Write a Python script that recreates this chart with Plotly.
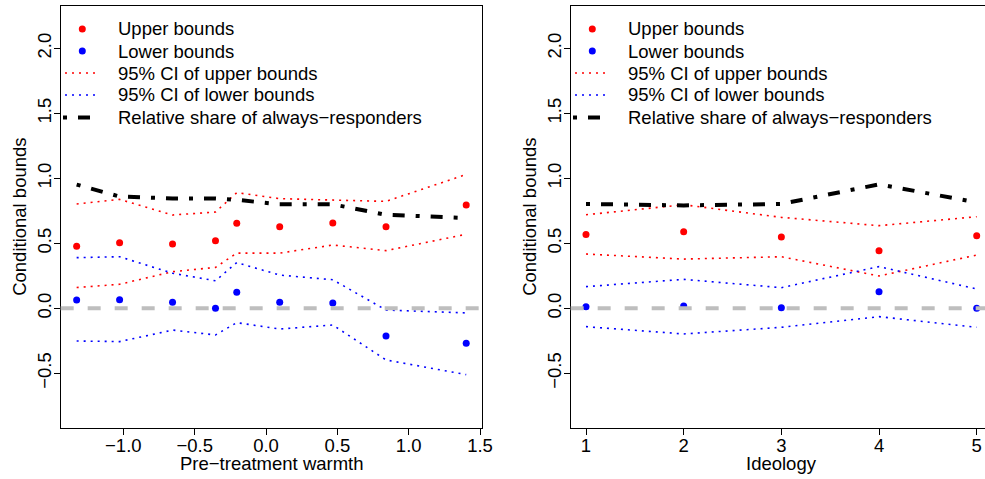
import plotly.graph_objects as go

# ---------------- data ----------------
warmth = [-1.327, -1.026, -0.655, -0.354, -0.205, 0.096, 0.468, 0.841, 1.403]
w_upper = [0.477, 0.505, 0.495, 0.520, 0.654, 0.628, 0.656, 0.628, 0.795]
w_lower = [0.064, 0.067, 0.046, 0.000, 0.123, 0.046, 0.041, -0.213, -0.269]
w_upper_ci_hi = [0.803, 0.838, 0.718, 0.741, 0.890, 0.844, 0.833, 0.823, 1.030]
w_upper_ci_lo = [0.160, 0.185, 0.282, 0.315, 0.425, 0.425, 0.487, 0.444, 0.570]
w_lower_ci_hi = [0.390, 0.397, 0.270, 0.212, 0.352, 0.256, 0.220, -0.013, -0.035]
w_lower_ci_lo = [-0.251, -0.256, -0.167, -0.205, -0.110, -0.159, -0.128, -0.397, -0.510]
w_share = [0.952, 0.860, 0.845, 0.845, 0.835, 0.800, 0.800, 0.720, 0.695]

ideology = [1, 2, 3, 4, 5]
i_upper = [0.569, 0.590, 0.549, 0.444, 0.559]
i_lower = [0.013, 0.018, 0.005, 0.128, 0.000]
i_upper_ci_hi = [0.720, 0.797, 0.700, 0.636, 0.705]
i_upper_ci_lo = [0.418, 0.379, 0.397, 0.249, 0.410]
i_lower_ci_hi = [0.167, 0.223, 0.159, 0.321, 0.149]
i_lower_ci_lo = [-0.141, -0.197, -0.146, -0.064, -0.146]
i_share = [0.803, 0.792, 0.803, 0.954, 0.815]

x_ticks_w = [-1.0, -0.5, 0.0, 0.5, 1.0, 1.5]
x_text_w = ["\u22121.0", "\u22120.5", "0.0", "0.5", "1.0", "1.5"]
x_ticks_i = [1, 2, 3, 4, 5]
x_text_i = ["1", "2", "3", "4", "5"]
y_ticks = [-0.5, 0.0, 0.5, 1.0, 1.5, 2.0]
y_text = ["\u22120.5", "0.0", "0.5", "1.0", "1.5", "2.0"]

legend_labels = ["Upper bounds", "Lower bounds", "95% CI of upper bounds",
                 "95% CI of lower bounds", "Relative share of always\u2212responders"]

# ---------------- style ----------------
W, H = 985, 479          # target picture size (layout positions are given in these pixels)
FIG_W = 996              # page width that the photograph maps onto the 985-px picture
FONT = "Liberation Sans, Arial, Helvetica, sans-serif"
FS = 18.5
RED, BLUE, BLACK, GREY = "#FF0000", "#0000FF", "#000000", "#BEBEBE"
DOT = "2px,5px"
DOTDASH = "4px,11px,12px,11px"

def px(x):
    return x / W

def py(y):
    return 1 - y / H

fig = go.Figure()

def add_panel(x, up, lo, uh, ul, lh, ll, sh, xa, ya):
    kw = dict(xaxis=xa, yaxis=ya, showlegend=False, hoverinfo="skip")
    fig.add_trace(go.Scatter(x=x, y=uh, mode="lines", line=dict(color=RED, width=1.6, dash=DOT), **kw))
    fig.add_trace(go.Scatter(x=x, y=ul, mode="lines", line=dict(color=RED, width=1.6, dash=DOT), **kw))
    fig.add_trace(go.Scatter(x=x, y=lh, mode="lines", line=dict(color=BLUE, width=1.6, dash=DOT), **kw))
    fig.add_trace(go.Scatter(x=x, y=ll, mode="lines", line=dict(color=BLUE, width=1.6, dash=DOT), **kw))
    fig.add_trace(go.Scatter(x=x, y=sh, mode="lines", line=dict(color=BLACK, width=4, dash=DOTDASH), **kw))
    fig.add_trace(go.Scatter(x=x, y=up, mode="markers", marker=dict(color=RED, size=7, line=dict(width=0)), **kw))
    fig.add_trace(go.Scatter(x=x, y=lo, mode="markers", marker=dict(color=BLUE, size=7, line=dict(width=0)), **kw))

add_panel(warmth, w_upper, w_lower, w_upper_ci_hi, w_upper_ci_lo,
          w_lower_ci_hi, w_lower_ci_lo, w_share, "x", "y")
add_panel(ideology, i_upper, i_lower, i_upper_ci_hi, i_upper_ci_lo,
          i_lower_ci_hi, i_lower_ci_lo, i_share, "x2", "y2")

# panel geometry (pixels)
L1, R1 = 60.67, 482.33
L2, R2 = 570.67, 985.0
TOP, BOT = 6.0, 427.67

axis_common = dict(showgrid=False, zeroline=False, showline=True, linecolor=BLACK, linewidth=1,
                   ticks="outside", ticklen=6, tickwidth=1, tickcolor=BLACK, ticklabelstandoff=-5,
                   tickfont=dict(family=FONT, size=FS, color=BLACK))

fig.update_layout(
    width=FIG_W, height=H, autosize=False, margin=dict(l=0, r=0, t=0, b=0),
    paper_bgcolor="white", plot_bgcolor="white",
    font=dict(family=FONT, size=FS, color=BLACK),
    xaxis=dict(domain=[px(L1), px(R1)], range=[-1.439, 1.516], tickvals=x_ticks_w, ticktext=x_text_w,
               mirror=True, anchor="y", **axis_common),
    yaxis=dict(domain=[py(BOT), py(TOP)], range=[-0.918, 2.326], tickvals=y_ticks, ticktext=y_text,
               tickangle=-90, mirror=True, anchor="x", **axis_common),
    xaxis2=dict(domain=[px(L2), px(R2)], range=[0.843, 5.085], tickvals=x_ticks_i, ticktext=x_text_i,
                mirror=True, anchor="y2", **axis_common),
    yaxis2=dict(domain=[py(BOT), py(TOP)], range=[-0.918, 2.326], tickvals=y_ticks, ticktext=y_text,
                tickangle=-90, mirror=False, anchor="x2", **axis_common),
)

# zero reference lines (drawn above the points)
for xr, yr in [("x domain", "y"), ("x2 domain", "y2")]:
    fig.add_shape(type="line", xref=xr, yref=yr, x0=0, x1=1, y0=0, y1=0,
                  line=dict(color=GREY, width=4, dash="13px,14px"), layer="above")

# axis titles
ann = []
for cx, label in [((L1 + R1) / 2, "Pre\u2212treatment warmth"), ((570.67 + 992.3) / 2, "Ideology")]:
    ann.append(dict(x=px(cx), y=py(463), xref="paper", yref="paper", text=label, showarrow=False,
                    xanchor="center", yanchor="middle", font=dict(family=FONT, size=FS, color=BLACK)))
for cx in [20, 530]:
    ann.append(dict(x=px(cx), y=py((TOP + BOT) / 2), xref="paper", yref="paper", text="Conditional bounds",
                    showarrow=False, textangle=-90, xanchor="center", yanchor="middle",
                    font=dict(family=FONT, size=FS, color=BLACK)))

# legends (drawn inside each panel, top-left)
rows = [29, 51, 73, 95, 117.5]
for left in [L1, L2]:
    dx = left - L1
    for r, c in [(rows[0], RED), (rows[1], BLUE)]:
        cx = 82.3 + dx
        fig.add_shape(type="circle", xref="paper", yref="paper",
                      x0=px(cx - 3.5), x1=px(cx + 3.5), y0=py(r + 3.5), y1=py(r - 3.5),
                      fillcolor=c, line=dict(width=0))
    for r, c, d, wdt, x0, x1 in [(rows[2], RED, DOT, 1.6, 65, 96), (rows[3], BLUE, DOT, 1.6, 65, 96),
                                 (rows[4], BLACK, DOTDASH, 4, 63, 96)]:
        fig.add_shape(type="line", xref="paper", yref="paper",
                      x0=px(x0 + dx), x1=px(x1 + dx), y0=py(r), y1=py(r),
                      line=dict(color=c, width=wdt, dash=d))
    for r, lab in zip(rows, legend_labels):
        ann.append(dict(x=px(116 + dx), y=py(r), xref="paper", yref="paper", text=lab, showarrow=False,
                        xanchor="left", yanchor="middle", font=dict(family=FONT, size=FS, color=BLACK)))

fig.update_layout(annotations=ann)

ps = """
[document.documentElement, document.body].forEach(function(e){
  e.style.margin='0px'; e.style.padding='0px'; e.style.overflow='hidden';
});
"""
fig.write_html("out.html",
               config={"responsive": False, "displayModeBar": False, "staticPlot": True},
               post_script=ps)
